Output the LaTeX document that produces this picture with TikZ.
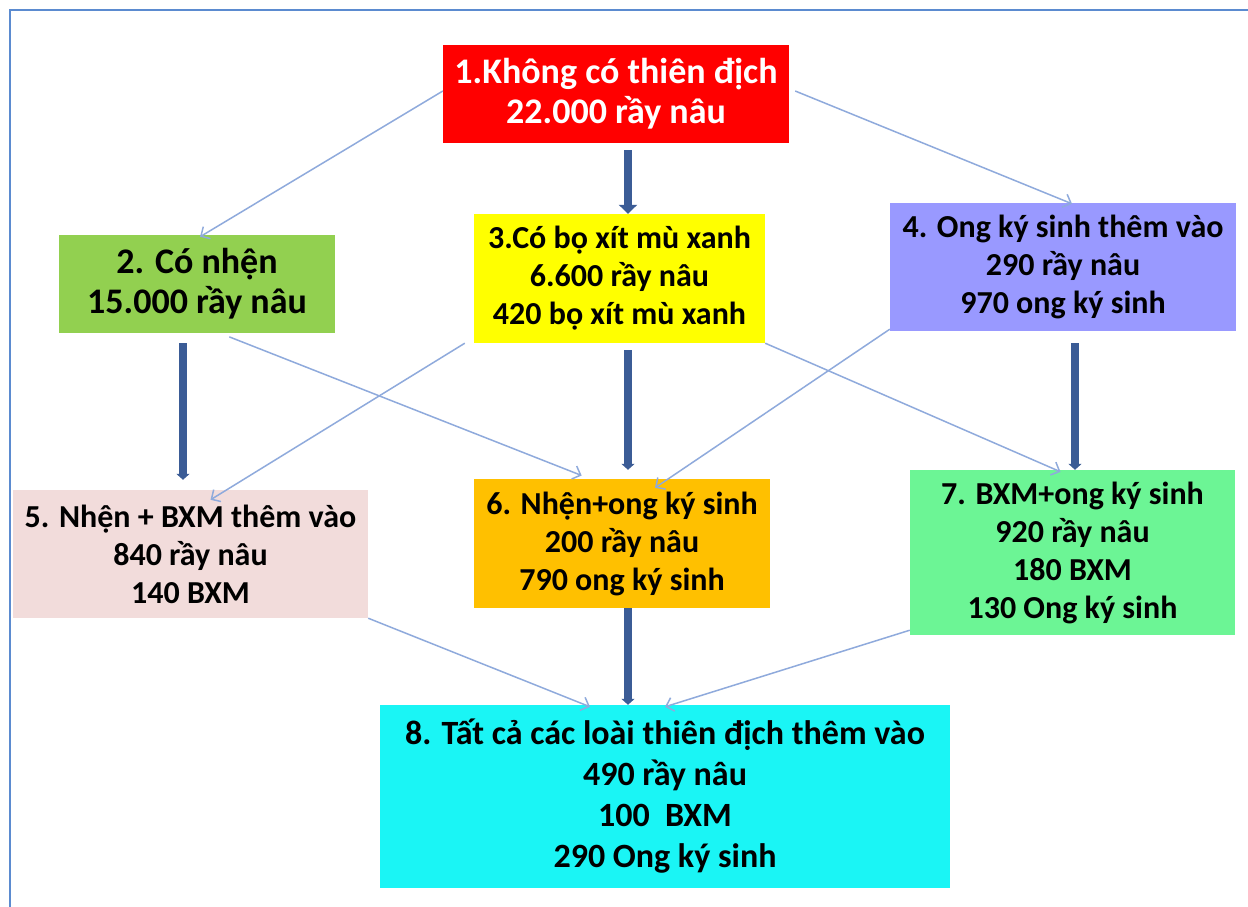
\documentclass[tikz,border=0pt]{standalone}
\usepackage{fontspec}
\setmainfont{Carlito}
\usetikzlibrary{arrows.meta}
\definecolor{cred}{HTML}{FF0000}
\definecolor{cgreen}{HTML}{92D050}
\definecolor{cyellow}{HTML}{FFFF00}
\definecolor{clav}{HTML}{9999FF}
\definecolor{cpink}{HTML}{F2DCDB}
\definecolor{corange}{HTML}{FFC000}
\definecolor{clgreen}{HTML}{6CF595}
\definecolor{ccyan}{HTML}{1AF5F5}
\definecolor{thickcol}{HTML}{3B5C96}
\definecolor{thincol}{HTML}{8FAADC}
\definecolor{framecol}{HTML}{5B8BD0}
\tikzset{
  box/.style={rectangle, inner sep=0pt, align=center, font=\bfseries\fontsize{32}{38}\selectfont},
  bigtext/.style={font=\bfseries\fontsize{36}{40}\selectfont},
  thickarr/.style={draw=thickcol, line width=8pt, -{Triangle[width=13pt,length=6pt]}},
  thinarr/.style={draw=thincol, line width=1.5pt, -{Straight Barb[length=7pt,width=14pt]}},
}
\begin{document}
\begin{tikzpicture}[x=1pt,y=-1pt]
\useasboundingbox (0,0) rectangle (1248,907);
\fill[white] (0,0) rectangle (1248,907);
\draw[framecol, line width=2pt] (10,907) -- (10,10) -- (1248,10);

\node[box, bigtext, fill=cred, text=white, minimum width=346pt, minimum height=98pt] (n1) at (616,94) {1.Không có thiên địch\\22.000 rầy nâu};
\node[box, bigtext, fill=cgreen, minimum width=276pt, minimum height=98pt] (n2) at (197,284) {2. Có nhện\\15.000 rầy nâu};
\node[box, fill=cyellow, minimum width=291pt, minimum height=129pt] (n3) at (619.5,278.5) {3.Có bọ xít mù xanh\\6.600 rầy nâu\\420 bọ xít mù xanh};
\node[box, fill=clav, minimum width=346pt, minimum height=128pt] (n4) at (1063,267) {4. Ong ký sinh thêm vào\\290 rầy nâu\\970 ong ký sinh};
\node[box, fill=cpink, minimum width=355pt, minimum height=128pt] (n5) at (190.5,554) {5. Nhện + BXM thêm vào\\840 rầy nâu\\140 BXM};
\node[box, fill=corange, minimum width=296pt, minimum height=129pt] (n6) at (622,543.5) {6. Nhện+ong ký sinh\\200 rầy nâu\\790 ong ký sinh};
\node[box, fill=clgreen, minimum width=325pt, minimum height=165pt] (n7) at (1072.5,552.5) {7. BXM+ong ký sinh\\920 rầy nâu\\180 BXM\\130 Ong ký sinh};
\node[box, fill=ccyan, minimum width=570pt, minimum height=183pt, font=\bfseries\fontsize{34}{41}\selectfont] (n8) at (665,796.5) {8. Tất cả các loài thiên địch thêm vào\\490 rầy nâu\\100\ \ BXM\\290 Ong ký sinh};

% thin arrows
\draw[thinarr] ([yshift=3pt]n1.west) -- ([xshift=3pt,yshift=-2pt]n2.north);
\draw[thinarr] ([xshift=6pt,yshift=3pt]n1.east) -- ([xshift=9pt,yshift=-1pt]n4.north);
\draw[thinarr, shorten <=10pt, shorten >=9pt] ([xshift=23pt]n2.south) -- ([xshift=-32pt]n6.north);
\draw[thinarr] ([xshift=-9pt]n3.south west) -- ([xshift=20pt,yshift=-10pt]n5.north);
\draw[thinarr] (n3.south east) -- ([xshift=-12pt,yshift=-2pt]n7.north);
\draw[thinarr] ([yshift=2pt]n4.south west) -- ([xshift=33pt,yshift=-9pt]n6.north);
\draw[thinarr] (n5.south east) -- ([xshift=-75pt,yshift=-2pt]n8.north);
\draw[thinarr] ([yshift=5pt]n7.south west) -- ([yshift=-2pt]n8.north);

% thick arrows
\draw[thickarr, -{Triangle[width=18pt,length=9pt]}, shorten <=7pt] ([xshift=12pt]n1.south) -- ([xshift=8.5pt]n3.north);
\draw[thickarr, shorten <=10pt, shorten >=10pt] ([xshift=-14pt]n2.south) -- ([xshift=-7.5pt]n5.north);
\draw[thickarr, shorten <=7pt, shorten >=9pt] ([xshift=8.5pt]n3.south) -- ([xshift=6pt]n6.north);
\draw[thickarr, shorten <=12pt] ([xshift=12pt]n4.south) -- ([xshift=2.5pt]n7.north);
\draw[thickarr] ([xshift=6pt]n6.south) -- ([xshift=-37pt]n8.north);
\end{tikzpicture}
\end{document}
